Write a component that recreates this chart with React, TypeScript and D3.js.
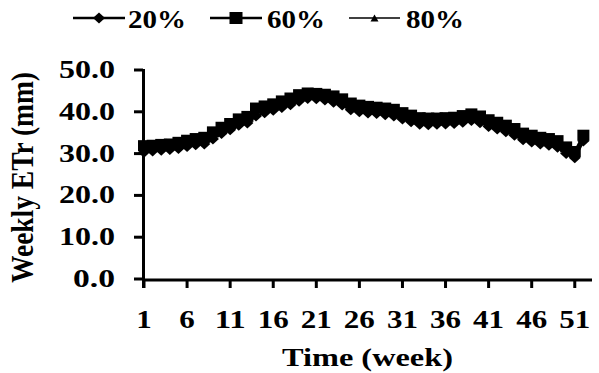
import React from "react";
import * as d3 from "d3";

const weeks: number[] = Array.from({ length: 52 }, (_, i) => i + 1);

const series20: number[] = [
  30.3, 30.6, 30.8, 31.0, 31.2, 31.7, 32.1, 32.3, 33.5, 34.8,
  35.7, 36.8, 37.3, 39.0, 39.8, 40.4, 41.0, 41.7, 42.5, 43.2,
  43.1, 42.8, 42.3, 41.6, 40.5, 40.0, 39.7, 39.6, 39.3, 39.0,
  38.3, 37.6, 37.0, 36.9, 37.0, 37.1, 37.2, 37.5, 37.9, 37.4,
  36.5, 35.9, 35.2, 34.4, 33.3, 32.8, 32.3, 32.0, 31.5, 30.0,
  29.0, 33.0,
];
const series60: number[] = [
  31.9, 32.0, 32.2, 32.3, 32.7, 33.2, 33.6, 33.9, 35.2, 36.3,
  37.2, 38.3, 38.9, 40.9, 41.4, 41.9, 42.6, 43.3, 44.1, 44.5,
  44.4, 44.2, 43.8, 43.1, 42.1, 41.6, 41.3, 41.1, 40.9, 40.6,
  39.8, 39.2, 38.6, 38.5, 38.5, 38.6, 38.7, 39.1, 39.5, 39.0,
  38.1, 37.5, 36.8, 36.0, 34.9, 34.4, 33.9, 33.6, 33.1, 31.6,
  30.5, 34.4,
];
const series80: number[] = [
  31.0, 31.2, 31.5, 31.6, 31.9, 32.4, 32.8, 33.0, 34.2, 35.6,
  36.4, 37.5, 38.1, 39.7, 40.5, 41.2, 41.8, 42.4, 43.3, 43.9,
  43.7, 43.5, 43.0, 42.3, 41.2, 40.8, 40.5, 40.3, 40.0, 39.8,
  39.1, 38.4, 37.8, 37.6, 37.8, 37.9, 38.0, 38.2, 38.7, 38.2,
  37.3, 36.7, 36.0, 35.1, 34.1, 33.6, 33.1, 32.7, 32.3, 30.8,
  29.8, 33.7,
];

const seriesNames: string[] = ["20%", "60%", "80%"];
const yTicks: number[] = [0, 10, 20, 30, 40, 50];
const xTicks: number[] = [1, 6, 11, 16, 21, 26, 31, 36, 41, 46, 51];

const FONT = '"Liberation Serif", "Times New Roman", Times, Tinos, serif';
const textStyle: React.CSSProperties = { fontFamily: FONT, fontWeight: 700 };

export default function App() {
  const x = d3.scaleLinear().domain([1, 53]).range([144, 592]);
  const y = d3.scaleLinear().domain([0, 50]).range([279, 70]);

  const lineGen = d3
    .line<number>()
    .x((_, i) => x(weeks[i]))
    .y((d) => y(d));

  const diamond = (cx: number, cy: number, w: number, h: number) =>
    `M${cx},${cy - h / 2}L${cx + w / 2},${cy}L${cx},${cy + h / 2}L${cx - w / 2},${cy}Z`;
  const triangle = (cx: number, cy: number, w: number, h: number) =>
    `M${cx},${cy - h / 2}L${cx + w / 2},${cy + h / 2}L${cx - w / 2},${cy + h / 2}Z`;

  const legendItems = [
    { name: seriesNames[0], x1: 73, x2: 125, tx: 128, sw: 2.5, kind: "diamond" },
    { name: seriesNames[1], x1: 210, x2: 262, tx: 267, sw: 2.5, kind: "square" },
    { name: seriesNames[2], x1: 349, x2: 400, tx: 406, sw: 1.5, kind: "triangle" },
  ];

  return (
    <svg
      width={599}
      height={373}
      style={{ position: "absolute", left: 0, top: 0, background: "#fff" }}
    >
      <rect x={0} y={0} width={599} height={373} fill="#fff" />
      {legendItems.map((it) => {
        const cx = (it.x1 + it.x2) / 2;
        const cy = 18;
        return (
          <g key={it.name}>
            <line x1={it.x1} x2={it.x2} y1={cy} y2={cy} stroke="#000" strokeWidth={it.sw} />
            {it.kind === "diamond" && <path d={diamond(cx, cy, 12, 11)} fill="#000" />}
            {it.kind === "square" && <rect x={cx - 6.5} y={cy - 6} width={13} height={12} fill="#000" />}
            {it.kind === "triangle" && <path d={triangle(cx, cy, 8, 7)} fill="#000" />}
            <text
              x={it.tx}
              y={28}
              style={textStyle}
              fontSize={25}
              textLength={58}
              lengthAdjust="spacingAndGlyphs"
              fill="#000"
            >
              {it.name}
            </text>
          </g>
        );
      })}

      <line x1={143.5} x2={143.5} y1={69} y2={288} stroke="#000" strokeWidth={3} />
      {yTicks.map((t) => (
        <g key={"y" + t}>
          <line x1={134} x2={143} y1={y(t)} y2={y(t)} stroke="#000" strokeWidth={3} />
          <text
            x={115}
            y={y(t) + 8}
            textAnchor="end"
            style={textStyle}
            fontSize={25}
            textLength={t >= 10 ? 56 : 42}
            lengthAdjust="spacingAndGlyphs"
            fill="#000"
          >
            {t.toFixed(1)}
          </text>
        </g>
      ))}

      <line x1={142} x2={592} y1={280} y2={280} stroke="#000" strokeWidth={3} />
      {xTicks.map((t) => (
        <g key={"x" + t}>
          <line x1={x(t)} x2={x(t)} y1={280} y2={288} stroke="#000" strokeWidth={3} />
          <text
            x={x(t)}
            y={328}
            textAnchor="middle"
            style={textStyle}
            fontSize={25}
            textLength={String(t).length * 15.5}
            lengthAdjust="spacingAndGlyphs"
            fill="#000"
          >
            {t}
          </text>
        </g>
      ))}

      <text
        x={367.5}
        y={366}
        textAnchor="middle"
        style={textStyle}
        fontSize={25}
        textLength={171}
        lengthAdjust="spacingAndGlyphs"
        fill="#000"
      >
        Time (week)
      </text>
      <g transform="translate(33,177.5) rotate(-90) scale(1,1.25)">
        <text
          x={0}
          y={0}
          textAnchor="middle"
          style={textStyle}
          fontSize={25}
          textLength={211}
          lengthAdjust="spacingAndGlyphs"
          fill="#000"
        >
          Weekly ETr (mm)
        </text>
      </g>

      <path d={lineGen(series20) || ""} fill="none" stroke="#000" strokeWidth={2.5} />
      {series20.map((v, i) => (
        <path key={"d" + i} d={diamond(x(weeks[i]), y(v), 12, 11)} fill="#000" />
      ))}
      <path d={lineGen(series60) || ""} fill="none" stroke="#000" strokeWidth={2.5} />
      {series60.map((v, i) => (
        <rect key={"s" + i} x={x(weeks[i]) - 6} y={y(v) - 5.5} width={12} height={11} fill="#000" />
      ))}
      <path d={lineGen(series80) || ""} fill="none" stroke="#000" strokeWidth={1.5} />
      {series80.map((v, i) => (
        <path key={"t" + i} d={triangle(x(weeks[i]), y(v), 8, 7)} fill="#000" />
      ))}
    </svg>
  );
}
